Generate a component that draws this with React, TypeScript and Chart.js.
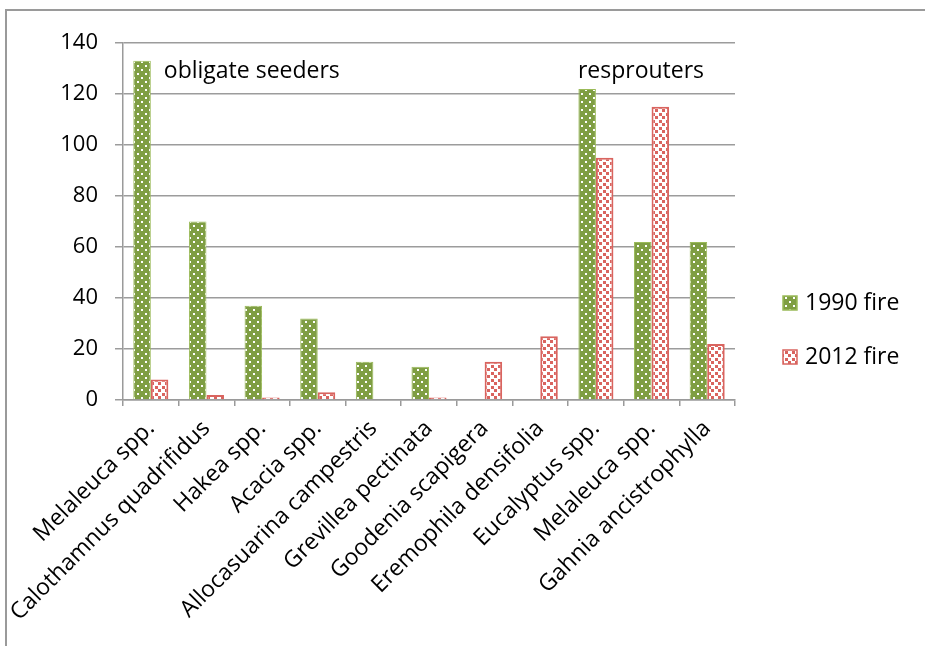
import { useEffect, useRef } from "react";
import { Chart, registerables } from "chart.js";

Chart.register(...registerables);

const categories = [
  "Melaleuca spp.",
  "Calothamnus quadrifidus",
  "Hakea spp.",
  "Acacia spp.",
  "Allocasuarina campestris",
  "Grevillea pectinata",
  "Goodenia scapigera",
  "Eremophila densifolia",
  "Eucalyptus spp.",
  "Melaleuca spp.",
  "Gahnia ancistrophylla",
];
const fire1990 = [133, 70, 37, 32, 15, 13, 0, 0, 122, 62, 62];
const fire2012 = [8, 2, 1, 3, 0, 1, 15, 25, 95, 115, 22];
const seriesLabels = ["1990 fire", "2012 fire"];
const groupLabels = ["obligate seeders", "resprouters"];
const groupStartIndex = [0, 8];
const yMin = 0;
const yMax = 140;
const yStep = 20;

const FONT = "'Open Sans', 'DejaVu Sans', sans-serif";
const GREEN = "#7f9e43";
const RED = "#d9645f";

function makeGreenPattern(ctx: CanvasRenderingContext2D) {
  const c = document.createElement("canvas");
  c.width = 8;
  c.height = 8;
  const g = c.getContext("2d")!;
  g.fillStyle = GREEN;
  g.fillRect(0, 0, 8, 8);
  g.fillStyle = "#ffffff";
  g.fillRect(1, 1, 2, 2);
  g.fillRect(5, 5, 2, 2);
  return ctx.createPattern(c, "repeat")!;
}

function makeRedPattern(ctx: CanvasRenderingContext2D) {
  const c = document.createElement("canvas");
  c.width = 7;
  c.height = 7;
  const g = c.getContext("2d")!;
  g.fillStyle = "#ffffff";
  g.fillRect(0, 0, 7, 7);
  g.fillStyle = RED;
  g.fillRect(1, 1, 3, 3);
  g.fillRect(4, 4, 3, 3);
  return ctx.createPattern(c, "repeat")!;
}

export default function App() {
  const ref = useRef<HTMLCanvasElement | null>(null);

  useEffect(() => {
    const canvas = ref.current!;
    const ctx = canvas.getContext("2d")!;
    const gp = makeGreenPattern(ctx);
    const rp = makeRedPattern(ctx);

    const framePlugin = {
      id: "frame",
      beforeDraw(chart: any) {
        const c = chart.ctx;
        c.save();
        c.fillStyle = "#ffffff";
        c.fillRect(0, 0, chart.width, chart.height);
        c.strokeStyle = "#9a9a9a";
        c.lineWidth = 2;
        c.beginPath();
        c.moveTo(6, chart.height);
        c.lineTo(6, 10);
        c.lineTo(chart.width, 10);
        c.stroke();
        c.restore();
      },
      afterDraw(chart: any) {
        const c = chart.ctx;
        const xs = chart.scales.x;
        const ys = chart.scales.y;
        const area = chart.chartArea;
        c.save();
        c.fillStyle = "#000";
        c.font = `23px ${FONT}`;
        c.textBaseline = "middle";
        c.textAlign = "left";
        const gx0 = xs.getPixelForValue(groupStartIndex[0]) + 13;
        const gx1 = xs.getPixelForValue(groupStartIndex[1]) - 18;
        const gy = ys.getPixelForValue(129);
        c.fillText(groupLabels[0], gx0, gy);
        c.fillText(groupLabels[1], gx1, gy);

        // legend
        const bx = area.right + 48;
        const rows = [303, 357];
        const fills = [gp, rp];
        const borders = ["#9bbb59", RED];
        rows.forEach((cy, i) => {
          c.fillStyle = fills[i];
          c.fillRect(bx, cy - 7, 14, 14);
          c.strokeStyle = borders[i];
          c.lineWidth = 1.5;
          c.strokeRect(bx, cy - 7, 14, 14);
          c.fillStyle = "#000";
          c.fillText(seriesLabels[i], bx + 22, cy);
        });
        c.restore();
      },
    };

    const chart = new Chart(canvas, {
      type: "bar",
      data: {
        labels: categories,
        datasets: [
          {
            label: seriesLabels[0],
            data: fire1990,
            backgroundColor: gp as any,
            borderColor: "#9bbb59",
            borderWidth: 1,
            categoryPercentage: 0.63,
            barPercentage: 1,
          },
          {
            label: seriesLabels[1],
            data: fire2012,
            backgroundColor: rp as any,
            borderColor: RED,
            borderWidth: 2,
            categoryPercentage: 0.63,
            barPercentage: 1,
          },
        ],
      },
      options: {
        responsive: false,
        animation: false,
        devicePixelRatio: 1,
        layout: { padding: { left: 0, top: 43, right: 190, bottom: 0 } },
        plugins: {
          legend: { display: false },
          tooltip: { enabled: false },
        },
        scales: {
          x: {
            offset: true,
            grid: {
              offset: true,
              drawOnChartArea: false,
              drawTicks: true,
              tickLength: 6,
              color: "#9a9a9a",
              lineWidth: 1.5,
            },
            border: { display: true, color: "#9a9a9a", width: 1.5 },
            ticks: {
              autoSkip: false,
              minRotation: 45,
              maxRotation: 45,
              padding: 9,
              color: "#000",
              font: { family: FONT, size: 23 },
            },
            afterFit(scale: any) {
              scale.height = 246;
            },
          },
          y: {
            min: yMin,
            max: yMax,
            ticks: {
              stepSize: yStep,
              padding: 17,
              color: "#000",
              font: { family: FONT, size: 22 },
            },
            grid: {
              color: "#9c9c9c",
              lineWidth: 1.5,
              tickLength: 8,
            },
            border: { display: true, color: "#9a9a9a", width: 1.5 },
            afterFit(scale: any) {
              scale.width = 123;
            },
          },
        },
      },
      plugins: [framePlugin],
    });

    return () => chart.destroy();
  }, []);

  return (
    <div style={{ position: "fixed", left: 0, top: 0, width: 925, height: 646, background: "#fff" }}>
      <canvas ref={ref} width={925} height={646} style={{ width: 925, height: 646, display: "block" }} />
    </div>
  );
}
